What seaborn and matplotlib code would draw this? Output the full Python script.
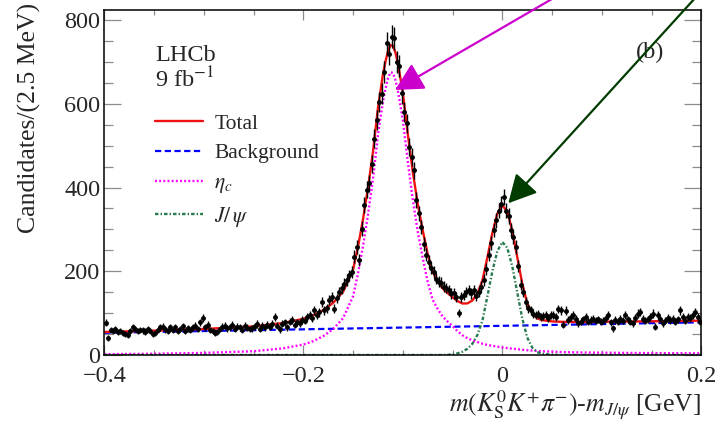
import numpy as np
import matplotlib
matplotlib.use("Agg")
import matplotlib.pyplot as plt
import seaborn as sns
from matplotlib.ticker import MultipleLocator, FuncFormatter

# candidates per 2.5 MeV bin, 240 bins from -0.4 to 0.2 GeV
counts = [
    77, 41, 60, 57, 62, 55, 58, 53, 50, 47, 58, 66, 62, 57, 60, 59, 56, 62, 57, 49,
    52, 60, 66, 68, 61, 58, 66, 60, 67, 58, 62, 69, 57, 64, 60, 66, 70, 62, 78, 88,
    66, 72, 60, 58, 52, 55, 62, 68, 70, 64, 66, 72, 63, 68, 66, 60, 70, 65, 62, 64,
    69, 74, 62, 70, 66, 72, 68, 74, 91, 70, 61, 75, 78, 66, 80, 84, 72, 78, 76, 84,
    82, 90, 96, 88, 107, 95, 102, 127, 107, 112, 131, 139, 111, 135, 150, 159, 170, 179, 190, 199,
    235, 258, 227, 302, 358, 395, 410, 457, 517, 561, 604, 624, 676, 744, 720, 760, 756, 700, 690, 625,
    580, 553, 497, 473, 441, 370, 338, 306, 265, 239, 223, 207, 199, 182, 175, 172, 163, 160, 155, 147,
    147, 139, 100, 139, 143, 150, 155, 147, 155, 140, 150, 163, 179, 205, 240, 268, 298, 322, 345, 360,
    378, 345, 332, 298, 282, 258, 212, 168, 150, 127, 112, 107, 99, 95, 98, 91, 93, 95, 88, 95,
    95, 90, 110, 107, 72, 106, 84, 91, 95, 87, 76, 80, 85, 91, 80, 84, 87, 82, 85, 80,
    82, 88, 95, 78, 64, 84, 80, 87, 82, 95, 85, 80, 76, 88, 99, 103, 87, 82, 85, 90,
    99, 68, 95, 85, 76, 82, 88, 84, 87, 80, 85, 107, 90, 82, 91, 88, 95, 103, 91, 80,
]
bin_lo = -0.4
bin_width = 0.0025

# fit components
fit_x = [-0.40, -0.35, -0.30, -0.25, -0.22, -0.20, -0.19, -0.18, -0.17, -0.16,
         -0.15, -0.145, -0.14, -0.135, -0.13, -0.125, -0.12, -0.1175, -0.115, -0.1125,
         -0.11, -0.1075, -0.105, -0.10, -0.095, -0.09, -0.085, -0.08, -0.075, -0.07,
         -0.065, -0.06, -0.055, -0.05, -0.045, -0.04, -0.035, -0.03, -0.025, -0.02,
         -0.015, -0.01, -0.005, 0.0, 0.005, 0.01, 0.015, 0.02, 0.025, 0.03,
         0.035, 0.04, 0.05, 0.06, 0.08, 0.10, 0.15, 0.20]
background = [53.0, 55.1, 57.2, 59.3, 60.5, 61.3, 61.8, 62.2, 62.6, 63.0,
              63.4, 63.7, 63.8, 64.0, 64.2, 64.4, 64.7, 64.8, 64.9, 65.0,
              65.1, 65.2, 65.3, 65.5, 65.7, 65.9, 66.1, 66.3, 66.5, 66.8,
              67.0, 67.2, 67.4, 67.6, 67.8, 68.0, 68.2, 68.4, 68.6, 68.8,
              69.0, 69.3, 69.5, 69.7, 69.9, 70.1, 70.3, 70.5, 70.7, 70.9,
              71.1, 71.3, 71.8, 72.2, 73.0, 73.9, 76.0, 78.0]
eta_c = [2, 3, 5, 9, 16, 25, 33, 45, 62, 88,
         140, 195, 260, 335, 420, 525, 605, 635, 660, 675,
         674, 658, 632, 562, 462, 372, 295, 232, 175, 132,
         110, 92, 80, 69, 57, 47, 40, 35, 31, 27,
         24, 22, 20, 18, 16.5, 15, 14, 12.5, 11.5, 10.5,
         9.5, 9, 8, 7, 6, 5.5, 4.5, 4]
jpsi = [0] * 32 + [0.5, 1.5, 4, 8, 15, 27, 48, 82, 140, 200,
                   248, 270, 256, 212, 150, 88, 42, 18, 7, 3,
                   0.5, 0, 0, 0, 0, 0]

sns.set_theme(style="ticks")
plt.rcParams["font.family"] = ["Liberation Serif", "DejaVu Serif"]
plt.rcParams["mathtext.fontset"] = "stix"
plt.rcParams["lines.scale_dashes"] = False

fig = plt.figure(figsize=(7.2, 4.23), dpi=100)
ax = fig.add_axes([104.3 / 720, 1 - 355 / 423, 597 / 720, 345 / 423])

counts = np.array(counts, dtype=float)
centers = bin_lo + bin_width * (np.arange(len(counts)) + 0.5)
total = np.array(background) + np.array(eta_c) + np.array(jpsi)

sns.lineplot(x=fit_x, y=background, ax=ax, color="#0000ff", lw=1.6,
             linestyle=(0, (4.5, 2.5)))
h_bkg = ax.lines[-1]
sns.lineplot(x=fit_x, y=eta_c, ax=ax, color="#ff00ff", lw=1.7,
             linestyle=(0, (1.4, 1.6)))
h_eta = ax.lines[-1]
sns.lineplot(x=fit_x, y=jpsi, ax=ax, color="#267a4e", lw=1.7,
             linestyle=(0, (2.5, 1.5, 1.0, 1.5)))
h_jpsi = ax.lines[-1]
sns.lineplot(x=fit_x, y=total, ax=ax, color="#ee1111", lw=1.7)
h_tot = ax.lines[-1]

ax.errorbar(centers, counts, yerr=np.sqrt(counts), xerr=bin_width / 2,
            fmt="o", ms=2.5, color="black", elinewidth=1.0, capsize=0, zorder=5)

ax.set_xlim(-0.4, 0.2)
ax.set_ylim(0, 824)
ax.xaxis.set_major_locator(MultipleLocator(0.2))
ax.xaxis.set_minor_locator(MultipleLocator(0.05))
ax.yaxis.set_major_locator(MultipleLocator(200))
ax.yaxis.set_minor_locator(MultipleLocator(50))
ax.xaxis.set_major_formatter(FuncFormatter(
    lambda v, p: f"{round(v, 3) + 0.0:g}".replace("-", "\u2212")))

ax.tick_params(which="both", direction="in", top=True, right=True,
               color="#8c8c8c", width=0.9)
ax.tick_params(axis="y", which="major", length=12, labelsize=17.5, pad=3)
ax.tick_params(axis="y", which="minor", length=6.5)
ax.tick_params(axis="x", which="major", length=7.2, labelsize=17.5, pad=8)
ax.tick_params(axis="x", which="minor", length=3.6)
for s in ax.spines.values():
    s.set_linewidth(1.1)
    s.set_color("black")

ax.set_ylabel("Candidates/(2.5 MeV)", fontsize=18.5, loc="top")
ax.yaxis.set_label_coords(-0.106, 1.02)
ax.set_xlabel(r"$m(K^0_{\rm S}K^{+}\pi^{-})$-$m_{J/\psi}$ [GeV]", fontsize=18.5, loc="right")
ax.xaxis.label.set_va("baseline")
ax.xaxis.set_label_coords(1.0, -0.165)

ax.text(0.0854, 0.853, "LHCb", transform=ax.transAxes, fontsize=17.5, va="baseline")
ax.text(0.0854, 0.776, r"9 fb$^{-1}$", transform=ax.transAxes, fontsize=17.5, va="baseline")
ax.text(0.915, 0.861, "(b)", transform=ax.transAxes, fontsize=17.5, ha="center", va="baseline")

ax.legend([h_tot, h_bkg, h_eta, h_jpsi], ["Total", "Background", r"$\eta_c$", r"$J/\,\psi$"],
          loc="upper left", bbox_to_anchor=(0.0854, 0.70), frameon=False,
          borderpad=0, borderaxespad=0, handlelength=2.2, handletextpad=0.55,
          labelspacing=0.45, fontsize=15.5)

ax.annotate("", xy=(-0.1078, 633), xytext=(0.062, 867), annotation_clip=False,
            arrowprops=dict(arrowstyle="-|>,head_length=0.86,head_width=0.45",
                            color="#cc00cc", lw=1.6, mutation_scale=20,
                            shrinkA=0, shrinkB=0), zorder=10)
ax.annotate("", xy=(0.006, 362.5), xytext=(0.1993, 867), annotation_clip=False,
            arrowprops=dict(arrowstyle="-|>,head_length=0.86,head_width=0.45",
                            color="#003c00", lw=1.6, mutation_scale=20,
                            shrinkA=0, shrinkB=0), zorder=10)

fig.savefig("out.png", dpi=100)
